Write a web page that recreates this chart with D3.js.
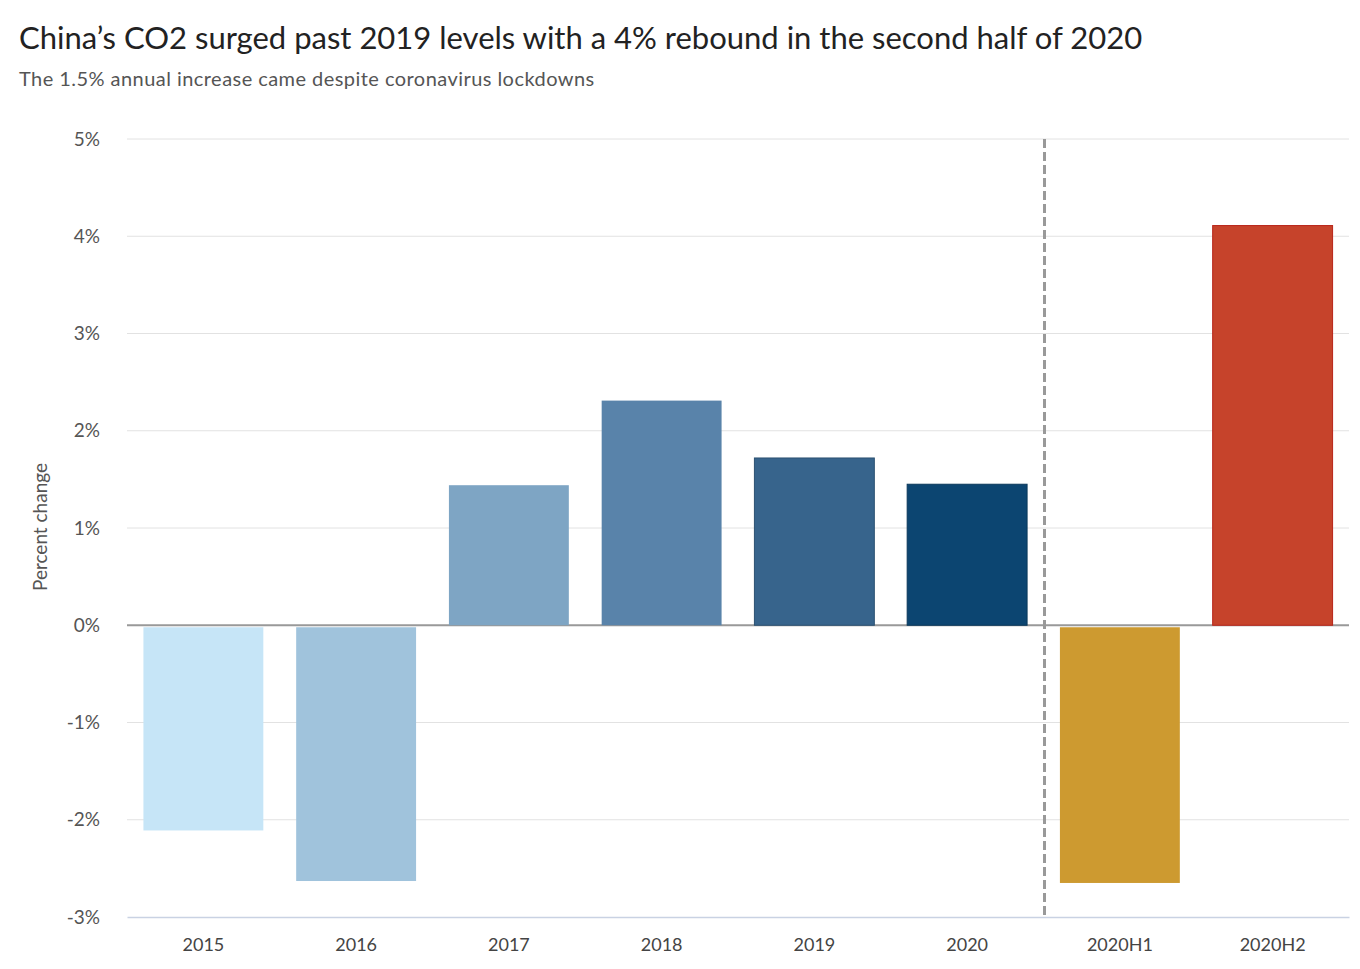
<!DOCTYPE html>
<html>
<head>
<meta charset="utf-8">
<script src="https://cdn.jsdelivr.net/npm/d3@7"></script>
<style>
  body { margin: 0; background: #fff; }
  svg { font-family: Lato, "Noto Sans", sans-serif; }
</style>
</head>
<body>
<svg id="chart"></svg>
<script>
// Data
const categories = ["2015", "2016", "2017", "2018", "2019", "2020", "2020H1", "2020H2"];
const values = [-2.11, -2.63, 1.44, 2.31, 1.72, 1.45, -2.65, 4.11];
const barColors = ["#c6e5f7", "#a0c3dc", "#7ea5c4", "#5983aa", "#37648c", "#0c4571", "#cd9a30", "#c6432b"];
const yTicks = [-3, -2, -1, 0, 1, 2, 3, 4, 5];

const width = 1360;
const height = 969;
const marginTop = 139;
const marginRight = 11;
const marginBottom = 52;
const marginLeft = 127;

const svg = d3.select("#chart")
  .attr("width", width)
  .attr("height", height)
  .attr("viewBox", [0, 0, width, height]);

const x = d3.scaleBand()
  .domain(categories)
  .range([marginLeft, width - marginRight])
  .paddingInner(0.215)
  .paddingOuter(0.1075);

const y = d3.scaleLinear()
  .domain([-3, 5])
  .range([height - marginBottom, marginTop]);

// Title and subtitle
svg.append("text")
  .attr("x", 19)
  .attr("y", 49)
  .attr("fill", "#222")
  .style("font-size", "31px")
  .text("China’s CO2 surged past 2019 levels with a 4% rebound in the second half of 2020");

svg.append("text")
  .attr("x", 19)
  .attr("y", 86)
  .attr("fill", "#555")
  .style("font-size", "20px")
  .style("letter-spacing", "0.45px")
  .text("The 1.5% annual increase came despite coronavirus lockdowns");

// Gridlines
svg.append("g")
  .selectAll("line")
  .data(yTicks.filter(d => d !== -3 && d !== 0))
  .join("line")
  .attr("x1", marginLeft)
  .attr("x2", width - marginRight)
  .attr("y1", d => y(d))
  .attr("y2", d => y(d))
  .attr("stroke", "#e2e2e2")
  .attr("stroke-width", 1);

// Y axis labels
const yAxis = svg.append("g")
  .attr("transform", `translate(${marginLeft},0)`)
  .call(d3.axisLeft(y).tickValues(yTicks).tickSize(0).tickPadding(27).tickFormat(d => d + "%"));
yAxis.select(".domain").remove();
yAxis.selectAll("text")
  .attr("fill", "#555")
  .style("font-size", "19px")
  .style("font-family", "Lato, 'Noto Sans', sans-serif");

svg.append("text")
  .attr("transform", "rotate(-90)")
  .attr("x", -(y(1) - 1))
  .attr("y", 47)
  .attr("text-anchor", "middle")
  .attr("fill", "#555")
  .style("font-size", "19px")
  .text("Percent change");

// Bottom axis
const xAxis = svg.append("g")
  .attr("transform", `translate(0,${y(-3)})`)
  .call(d3.axisBottom(x).tickSize(0).tickPadding(21));
xAxis.select(".domain")
  .attr("stroke", "#c9d2e3")
  .attr("stroke-width", 1.5);
xAxis.selectAll("text")
  .attr("fill", "#444")
  .style("font-size", "18px")
  .style("font-family", "Lato, 'Noto Sans', sans-serif");

// Zero line
svg.append("line")
  .attr("x1", marginLeft)
  .attr("x2", width - marginRight)
  .attr("y1", y(0))
  .attr("y2", y(0))
  .attr("stroke", "#999")
  .attr("stroke-width", 2);

// Bars
svg.append("g")
  .selectAll("rect")
  .data(categories)
  .join("rect")
  .attr("x", d => x(d))
  .attr("width", x.bandwidth())
  .attr("y", (d, i) => values[i] >= 0 ? y(values[i]) : y(0) + 2)
  .attr("height", (d, i) => values[i] >= 0 ? y(0) - y(values[i]) : y(values[i]) - y(0) - 2)
  .attr("fill", (d, i) => barColors[i])
  .attr("stroke", (d, i) => i === 7 ? "#b82418" : (i >= 4 && i <= 5 ? d3.color(barColors[i]).darker(0.6) : "none"))
  .attr("stroke-width", 1);

// Dashed divider between annual and half-year values
const divX = x("2020H1") - x.step() * x.paddingInner() / 2 + 1;
svg.append("line")
  .attr("x1", divX)
  .attr("x2", divX)
  .attr("y1", y(5))
  .attr("y2", y(-3))
  .attr("stroke", "#999")
  .attr("stroke-width", 3)
  .attr("stroke-dasharray", "9,4");
</script>
</body>
</html>
